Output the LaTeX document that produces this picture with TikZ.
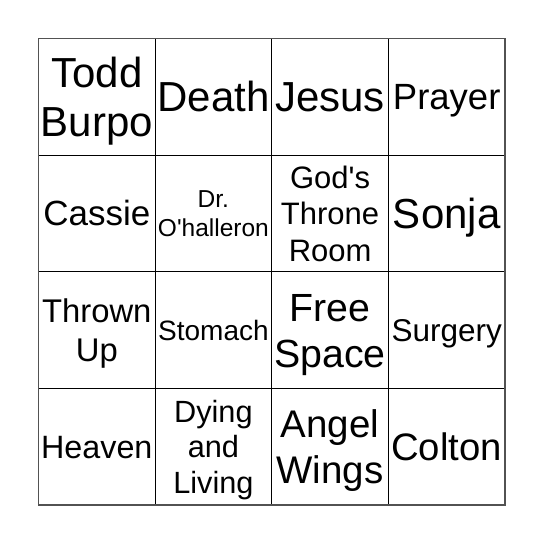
\documentclass[tikz,border=0pt]{standalone}
\usepackage{fontspec}
\setmainfont{Liberation Sans}
\usepackage{tikz}
\newcommand{\fsz}[2]{\fontsize{#1}{#2}\selectfont}

\begin{document}
\begin{tikzpicture}[x=1pt, y=-1pt,
    word/.style={align=center, inner sep=0pt, text depth=0pt}]
			%%%%% START %%%%%
			\useasboundingbox (0, 0) rectangle (544, 544);
			
			% inner lines
			\draw[line width=1pt] (155.1, 38.5) -- (155.1, 505);
			\draw[line width=1pt] (271.75, 38.5) -- (271.75, 505);
			\draw[line width=1pt] (388.4, 38.5) -- (388.4, 505);
			\draw[line width=1pt] (38.5, 155.1) -- (505, 155.1);
			\draw[line width=1pt] (38.5, 271.75) -- (505, 271.75);
			\draw[line width=1pt] (38.5, 388.4) -- (505, 388.4);
			\draw[line width=1.8pt, color=black!68] (38.5, 38.5) rectangle (505, 505);
			
			% row 1
			\node[word, font=\fsz{42}{49}, text height=79.1pt] (todd) at (96.8, 96.8) {Todd\\Burpo};
			\node[word, font=\fsz{42}{49}, text height=30.1pt] (death) at (213.4, 96.8) {Death};
			\node[word, font=\fsz{42}{49}, text height=30.1pt] (jesus) at (330.1, 96.8) {Jesus};
			\node[word, font=\fsz{36.5}{43}, text height=26.1pt] (prayer) at (446.7, 96.8) {Prayer};
			
			% row 2
			\node[word, font=\fsz{35}{41}, text height=25.1pt] (cassie) at (96.8, 213.4) {Cassie};
			\node[word, font=\fsz{24.5}{29.4}, text height=46.9pt] (doctor) at (213.4, 213.4) {Dr.\\O\textquotesingle halleron};
			\node[word, font=\fsz{31}{36.5}, text height=95.2pt] (throne) at (330.1, 213.4) {God\textquotesingle s\\Throne\\Room};
			\node[word, font=\fsz{42}{49}, text height=30.1pt] (sonja) at (446.7, 213.4) {Sonja};
			
			% row 3
			\node[word, font=\fsz{32.8}{38.3}, text height=61.8pt] (thrown) at (96.8, 330.1) {Thrown\\Up};
			\node[word, font=\fsz{28}{33}, text height=20pt] (stomach) at (213.4, 330.1) {Stomach};
			\node[word, font=\fsz{39.3}{46}, text height=74.1pt] (free) at (330.1, 330.1) {Free\\Space};
			\node[word, font=\fsz{31.5}{37}, text height=22.6pt] (surgery) at (446.7, 330.1) {Surgery};
			
			% row 4
			\node[word, font=\fsz{32.3}{38}, text height=23.1pt] (heaven) at (96.8, 446.7) {Heaven};
			\node[word, font=\fsz{30.7}{35.5}, text height=93pt] (dying) at (213.4, 446.7) {Dying\\and\\Living};
			\node[word, font=\fsz{38.5}{46.5}, text height=74.1pt] (angel) at (330.1, 446.7) {Angel\\Wings};
			\node[word, font=\fsz{38.3}{45}, text height=27.4pt] (colton) at (446.7, 446.7) {Colton};
			
			%%%%% END %%%%%
		\end{tikzpicture}
\end{document}
